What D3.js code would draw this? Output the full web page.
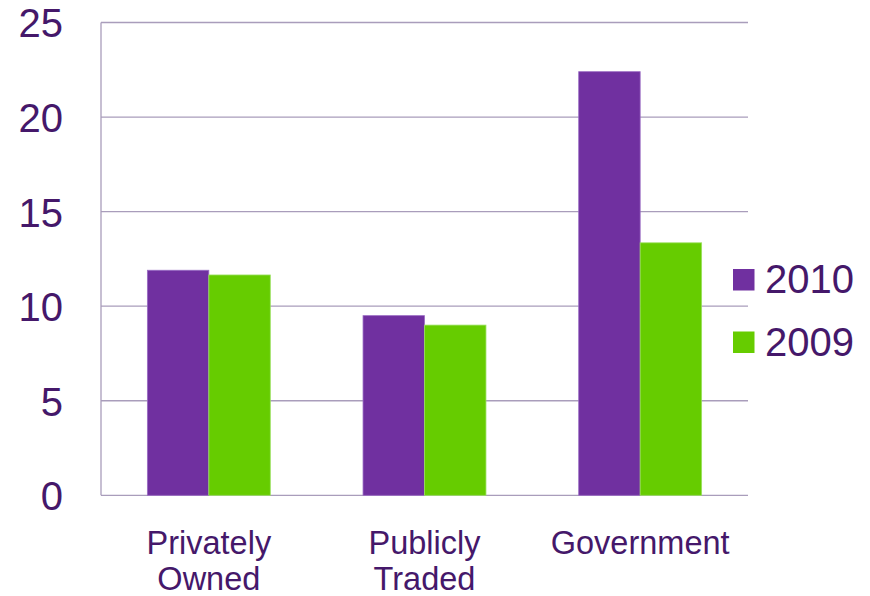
<!DOCTYPE html>
<html>
<head>
<meta charset="utf-8">
<script src="https://cdn.jsdelivr.net/npm/d3@7"></script>
<style>
  html, body { margin: 0; padding: 0; background: #ffffff; }
  svg { display: block; }
  text { font-family: "Liberation Sans", Arial, sans-serif; fill: #45186A; }
</style>
</head>
<body>
<svg id="chart" width="870" height="596"></svg>
<script>
// Chart data
const categories = [["Privately", "Owned"], ["Publicly", "Traded"], ["Government"]];
const seriesNames = ["2010", "2009"];
const values2010 = [11.9, 9.5, 22.4];
const values2009 = [11.65, 9.0, 13.35];
const yTicks = [0, 5, 10, 15, 20, 25];
const seriesColors = ["#7030A0", "#66CC00"];

const svg = d3.select("#chart");
const margin = { left: 101, right: 122, top: 22.5, bottom: 100.7 };
const width = 870 - margin.left - margin.right;
const height = 596 - margin.top - margin.bottom;

const g = svg.append("g").attr("transform", `translate(${margin.left},${margin.top})`);

const catKeys = categories.map(c => c.join(" "));
const x0 = d3.scaleBand().domain(catKeys).range([0, width]).paddingInner(0.43).paddingOuter(0.215);
const x1 = d3.scaleBand().domain(seriesNames).range([0, x0.bandwidth()]);
const y = d3.scaleLinear().domain([0, 25]).range([height, 0]);

// Horizontal gridlines
g.append("g")
  .selectAll("line")
  .data(yTicks)
  .join("line")
  .attr("x1", 0).attr("x2", width)
  .attr("y1", d => y(d)).attr("y2", d => y(d))
  .attr("stroke", "#A99DBB").attr("stroke-width", 1.3);

// Vertical axis line
g.append("line")
  .attr("x1", 0).attr("x2", 0).attr("y1", 0).attr("y2", height)
  .attr("stroke", "#A99DBB").attr("stroke-width", 1.3);

// Y tick labels
const yAxis = d3.axisLeft(y).tickValues(yTicks).tickSize(0).tickPadding(38);
const yg = g.append("g").call(yAxis);
yg.select(".domain").remove();
yg.selectAll("text")
  .attr("font-size", 40)
  .attr("dy", "0.36em")
  .style("font-family", "'Liberation Sans', Arial, sans-serif")
  .attr("fill", "#45186A");

// Bars
const rows = catKeys.map((k, i) => ({ key: k, vals: [values2010[i], values2009[i]] }));
const groups = g.append("g").selectAll("g")
  .data(rows)
  .join("g")
  .attr("transform", d => `translate(${x0(d.key)},0)`);

groups.selectAll("rect")
  .data(d => d.vals.map((v, j) => ({ name: seriesNames[j], v, j })))
  .join("rect")
  .attr("x", d => x1(d.name))
  .attr("width", x1.bandwidth())
  .attr("y", d => y(d.v))
  .attr("height", d => y(0) - y(d.v))
  .attr("fill", d => seriesColors[d.j])
  .attr("stroke", d => d.j === 0 ? "#9A6CC4" : "#9BE060")
  .attr("stroke-width", 0.8);

// Category labels
const labels = g.append("g").selectAll("text")
  .data(categories)
  .join("text")
  .attr("text-anchor", "middle")
  .attr("font-size", 32.5)
  .attr("transform", (d, i) => `translate(${x0(catKeys[i]) + x0.bandwidth() / 2},${height + 59})`);
labels.selectAll("tspan")
  .data(d => d)
  .join("tspan")
  .attr("x", 0)
  .attr("dy", (d, i) => i === 0 ? 0 : 36)
  .text(d => d);

// Legend
const legend = svg.append("g").attr("transform", "translate(733,269)");
const items = legend.selectAll("g")
  .data(seriesNames)
  .join("g")
  .attr("transform", (d, i) => `translate(0,${i * 62.5})`);
items.append("rect")
  .attr("width", 21.5).attr("height", 21.5)
  .attr("fill", (d, i) => seriesColors[i]);
items.append("text")
  .attr("x", 32).attr("y", 24)
  .attr("font-size", 40)
  .text(d => d);
</script>
</body>
</html>
